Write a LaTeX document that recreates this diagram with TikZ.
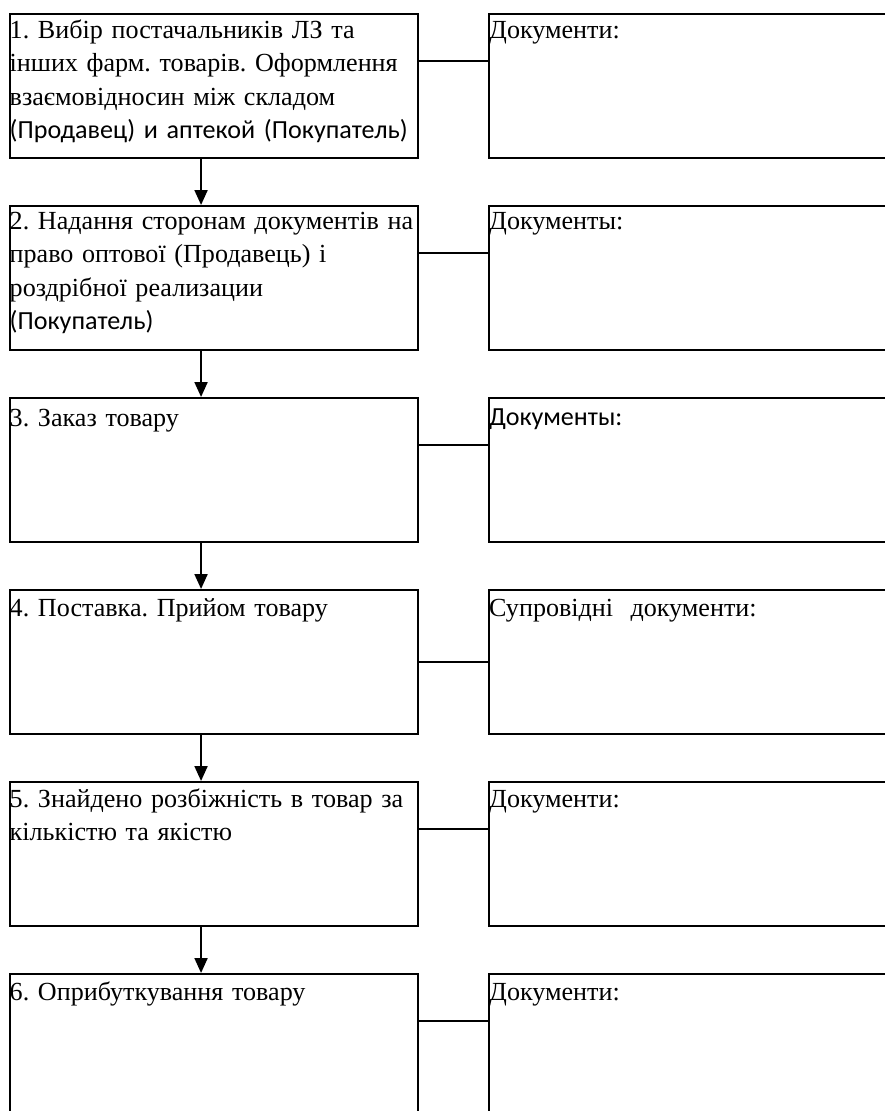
\documentclass[tikz,border=0pt]{standalone}
\usepackage{fontspec}
\setmainfont{Liberation Serif}
\newfontfamily\calibri{Carlito}
\usetikzlibrary{arrows.meta}
\frenchspacing

\begin{document}
\begin{tikzpicture}[x=1pt, y=-1pt,
  stepbox/.style={draw, line width=2pt, minimum width=408.5pt,
    minimum height=143.5pt, inner sep=0pt, anchor=north west},
  docbox/.style={stepbox, minimum width=450pt},
  boxtext/.style={anchor=base west, align=left, inner sep=0pt, text width=480pt,
    font=\fontsize{26.1pt}{33.5pt}\selectfont},
  flow/.style={line width=2pt, -{Triangle[length=15pt, width=13pt]}},
  link/.style={line width=2pt}]

  % Fix the page to the size of the reference and cut off what runs over
  \useasboundingbox (0,0) rectangle (885,1111);
  \clip (0,0) rectangle (885,1111);

  % Step boxes on the left
  \node[stepbox] (s1) at (8.5, 13) {};
  \node[stepbox] (s2) at (8.5, 205) {};
  \node[stepbox] (s3) at (8.5, 397) {};
  \node[stepbox] (s4) at (8.5, 589) {};
  \node[stepbox] (s5) at (8.5, 781) {};
  \node[stepbox] (s6) at (8.5, 973) {};

  % Document boxes on the right
  \node[docbox] (d1) at (488, 13) {};
  \node[docbox] (d2) at (488, 205) {};
  \node[docbox] (d3) at (488, 397) {};
  \node[docbox] (d4) at (488, 589) {};
  \node[docbox] (d5) at (488, 781) {};
  \node[docbox] (d6) at (488, 973) {};

  % Texts of the steps, set at the top left of each box
  \node[boxtext] (t1) at ([xshift=1pt, yshift=-25pt]s1.north west)
    {1. Вибір постачальників ЛЗ та\\інших фарм. товарів. Оформлення\\взаємовідносин між складом\\{\calibri(Продавец) и аптекой (Покупатель)}};
  \node[boxtext] (t2) at ([xshift=1pt, yshift=-24pt]s2.north west)
    {2. Надання сторонам документів на\\право оптової (Продавець) і\\роздрібної реализации\\{\calibri(Покупатель)}};
  \node[boxtext] (t3) at ([xshift=1pt, yshift=-29pt]s3.north west) {3. Заказ товару};
  \node[boxtext] (t4) at ([xshift=1pt, yshift=-27pt]s4.north west) {4. Поставка. Прийом товару};
  \node[boxtext] (t5) at ([xshift=1pt, yshift=-26pt]s5.north west)
    {5. Знайдено розбіжність в товар за\\кількістю та якістю};
  \node[boxtext] (t6) at ([xshift=1pt, yshift=-27pt]s6.north west) {6. Оприбуткування товару};

  % Texts of the document boxes
  \node[boxtext] (r1) at ([xshift=1pt, yshift=-25pt]d1.north west) {Документи:};
  \node[boxtext] (r2) at ([xshift=1pt, yshift=-24pt]d2.north west) {Документы:};
  \node[boxtext] (r3) at ([xshift=1pt, yshift=-28pt]d3.north west) {\calibri Документы:};
  \node[boxtext] (r4) at ([xshift=1pt, yshift=-27pt]d4.north west) {Супровідні\ \ документи:};
  \node[boxtext] (r5) at ([xshift=1pt, yshift=-26pt]d5.north west) {Документи:};
  \node[boxtext] (r6) at ([xshift=1pt, yshift=-27pt]d6.north west) {Документи:};

  % Arrows from one step to the next
  \draw[flow] ([xshift=-12.7pt]s1.south) -- ([xshift=-12.7pt]s2.north);
  \draw[flow] ([xshift=-12.7pt]s2.south) -- ([xshift=-12.7pt]s3.north);
  \draw[flow] ([xshift=-12.7pt]s3.south) -- ([xshift=-12.7pt]s4.north);
  \draw[flow] ([xshift=-12.7pt]s4.south) -- ([xshift=-12.7pt]s5.north);
  \draw[flow] ([xshift=-12.7pt]s5.south) -- ([xshift=-12.7pt]s6.north);

  % Lines from each step to its documents
  \draw[link] ([yshift=-48pt]s1.north east) -- ([yshift=-48pt]d1.north west);
  \draw[link] ([yshift=-48pt]s2.north east) -- ([yshift=-48pt]d2.north west);
  \draw[link] ([yshift=-48pt]s3.north east) -- ([yshift=-48pt]d3.north west);
  \draw[link] (s4.east) -- (d4.west);
  \draw[link] ([yshift=-48pt]s5.north east) -- ([yshift=-48pt]d5.north west);
  \draw[link] ([yshift=-48pt]s6.north east) -- ([yshift=-48pt]d6.north west);

\end{tikzpicture}
\end{document}
